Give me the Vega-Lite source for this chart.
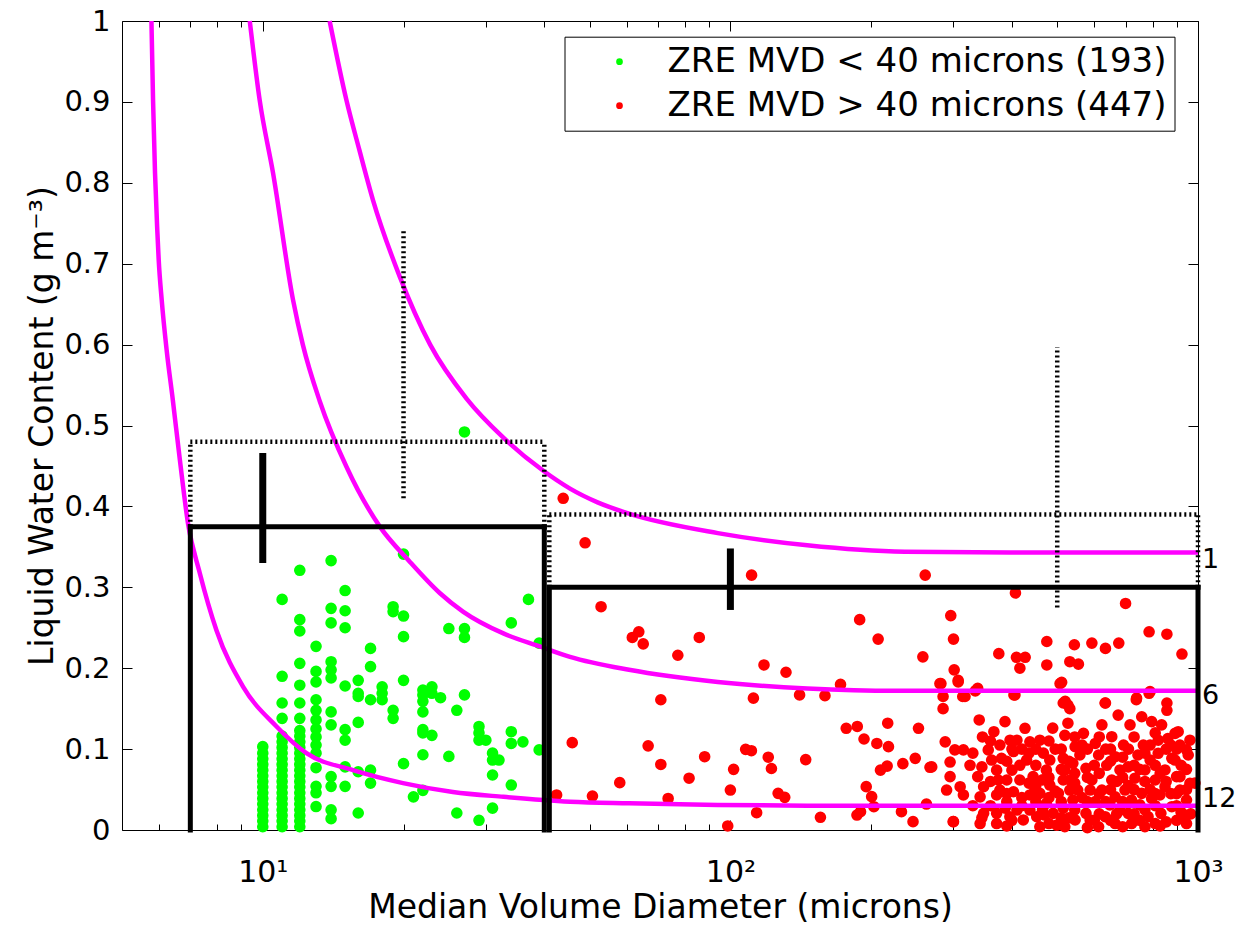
{
  "$schema": "https://vega.github.io/schema/vega-lite/v6.json",
  "width": 1076,
  "height": 809,
  "autosize": {"type": "none"},
  "padding": {"left": 122, "top": 21, "right": 40, "bottom": 104},
  "background": "white",
  "config": {
    "view": {"stroke": null},
    "axis": {"grid": false, "domainColor": "black", "domainWidth": 1, "tickColor": "black", "tickWidth": 1, "labelColor": "black", "titleColor": "black", "labelFont": "DejaVu Sans", "titleFont": "DejaVu Sans", "titleFontWeight": "normal"}
  },
  "resolve": {"axis": {"x": "independent", "y": "independent"}},
  "datasets": {
    "pts": [
      {"x":10,"y":0.004,"g":"lt"},{"x":10,"y":0.011,"g":"lt"},{"x":10,"y":0.018,"g":"lt"},{"x":10,"y":0.025,"g":"lt"},{"x":10,"y":0.032,"g":"lt"},{"x":10,"y":0.039,"g":"lt"},{"x":10,"y":0.046,"g":"lt"},{"x":10,"y":0.053,"g":"lt"},{"x":10,"y":0.06,"g":"lt"},{"x":10,"y":0.067,"g":"lt"},{"x":10,"y":0.074,"g":"lt"},{"x":10,"y":0.081,"g":"lt"},{"x":10,"y":0.088,"g":"lt"},{"x":10,"y":0.095,"g":"lt"},{"x":10,"y":0.103,"g":"lt"},
      {"x":11,"y":0.004,"g":"lt"},{"x":11,"y":0.011,"g":"lt"},{"x":11,"y":0.018,"g":"lt"},{"x":11,"y":0.025,"g":"lt"},{"x":11,"y":0.032,"g":"lt"},{"x":11,"y":0.039,"g":"lt"},{"x":11,"y":0.046,"g":"lt"},{"x":11,"y":0.053,"g":"lt"},{"x":11,"y":0.06,"g":"lt"},{"x":11,"y":0.067,"g":"lt"},{"x":11,"y":0.074,"g":"lt"},{"x":11,"y":0.081,"g":"lt"},{"x":11,"y":0.088,"g":"lt"},{"x":11,"y":0.095,"g":"lt"},{"x":11,"y":0.102,"g":"lt"},{"x":11,"y":0.109,"g":"lt"},{"x":11,"y":0.116,"g":"lt"},{"x":11,"y":0.138,"g":"lt"},{"x":11,"y":0.157,"g":"lt"},{"x":11,"y":0.19,"g":"lt"},{"x":11,"y":0.285,"g":"lt"},
      {"x":12,"y":0.004,"g":"lt"},{"x":12,"y":0.011,"g":"lt"},{"x":12,"y":0.018,"g":"lt"},{"x":12,"y":0.025,"g":"lt"},{"x":12,"y":0.032,"g":"lt"},{"x":12,"y":0.039,"g":"lt"},{"x":12,"y":0.046,"g":"lt"},{"x":12,"y":0.053,"g":"lt"},{"x":12,"y":0.06,"g":"lt"},{"x":12,"y":0.067,"g":"lt"},{"x":12,"y":0.074,"g":"lt"},{"x":12,"y":0.081,"g":"lt"},{"x":12,"y":0.088,"g":"lt"},{"x":12,"y":0.095,"g":"lt"},{"x":12,"y":0.102,"g":"lt"},{"x":12,"y":0.109,"g":"lt"},{"x":12,"y":0.116,"g":"lt"},{"x":12,"y":0.123,"g":"lt"},{"x":12,"y":0.138,"g":"lt"},{"x":12,"y":0.157,"g":"lt"},{"x":12,"y":0.179,"g":"lt"},{"x":12,"y":0.206,"g":"lt"},{"x":12,"y":0.246,"g":"lt"},{"x":12,"y":0.26,"g":"lt"},{"x":12,"y":0.321,"g":"lt"},
      {"x":13,"y":0.029,"g":"lt"},{"x":13,"y":0.046,"g":"lt"},{"x":13,"y":0.054,"g":"lt"},{"x":13,"y":0.077,"g":"lt"},{"x":13,"y":0.095,"g":"lt"},{"x":13,"y":0.105,"g":"lt"},{"x":13,"y":0.115,"g":"lt"},{"x":13,"y":0.125,"g":"lt"},{"x":13,"y":0.136,"g":"lt"},{"x":13,"y":0.148,"g":"lt"},{"x":13,"y":0.161,"g":"lt"},{"x":13,"y":0.183,"g":"lt"},{"x":13,"y":0.196,"g":"lt"},{"x":13,"y":0.227,"g":"lt"},
      {"x":14,"y":0.014,"g":"lt"},{"x":14,"y":0.025,"g":"lt"},{"x":14,"y":0.054,"g":"lt"},{"x":14,"y":0.066,"g":"lt"},{"x":14,"y":0.13,"g":"lt"},{"x":14,"y":0.146,"g":"lt"},{"x":14,"y":0.188,"g":"lt"},{"x":14,"y":0.198,"g":"lt"},{"x":14,"y":0.208,"g":"lt"},{"x":14,"y":0.256,"g":"lt"},{"x":14,"y":0.274,"g":"lt"},{"x":14,"y":0.333,"g":"lt"},
      {"x":15,"y":0.054,"g":"lt"},{"x":15,"y":0.078,"g":"lt"},{"x":15,"y":0.111,"g":"lt"},{"x":15,"y":0.124,"g":"lt"},{"x":15,"y":0.178,"g":"lt"},{"x":15,"y":0.25,"g":"lt"},{"x":15,"y":0.271,"g":"lt"},{"x":15,"y":0.296,"g":"lt"},
      {"x":16,"y":0.021,"g":"lt"},{"x":16,"y":0.072,"g":"lt"},{"x":16,"y":0.133,"g":"lt"},{"x":16,"y":0.165,"g":"lt"},{"x":16,"y":0.169,"g":"lt"},{"x":16,"y":0.185,"g":"lt"},
      {"x":17,"y":0.058,"g":"lt"},{"x":17,"y":0.074,"g":"lt"},{"x":17,"y":0.161,"g":"lt"},{"x":17,"y":0.202,"g":"lt"},{"x":17,"y":0.2245,"g":"lt"},
      {"x":18,"y":0.161,"g":"lt"},{"x":18,"y":0.169,"g":"lt"},{"x":18,"y":0.177,"g":"lt"},
      {"x":19,"y":0.138,"g":"lt"},{"x":19,"y":0.148,"g":"lt"},{"x":19,"y":0.27,"g":"lt"},{"x":19,"y":0.276,"g":"lt"},
      {"x":20,"y":0.082,"g":"lt"},{"x":20,"y":0.185,"g":"lt"},{"x":20,"y":0.239,"g":"lt"},{"x":20,"y":0.2645,"g":"lt"},{"x":20,"y":0.341,"g":"lt"},
      {"x":21,"y":0.041,"g":"lt"},
      {"x":22,"y":0.049,"g":"lt"},{"x":22,"y":0.093,"g":"lt"},{"x":22,"y":0.12,"g":"lt"},{"x":22,"y":0.124,"g":"lt"},{"x":22,"y":0.146,"g":"lt"},{"x":22,"y":0.159,"g":"lt"},{"x":22,"y":0.167,"g":"lt"},{"x":22,"y":0.173,"g":"lt"},
      {"x":23,"y":0.117,"g":"lt"},{"x":23,"y":0.169,"g":"lt"},{"x":23,"y":0.177,"g":"lt"},
      {"x":24,"y":0.1635,"g":"lt"},
      {"x":25,"y":0.091,"g":"lt"},{"x":25,"y":0.249,"g":"lt"},
      {"x":26,"y":0.021,"g":"lt"},{"x":26,"y":0.148,"g":"lt"},
      {"x":27,"y":0.167,"g":"lt"},{"x":27,"y":0.238,"g":"lt"},{"x":27,"y":0.249,"g":"lt"},{"x":27,"y":0.492,"g":"lt"},
      {"x":29,"y":0.012,"g":"lt"},{"x":29,"y":0.111,"g":"lt"},{"x":29,"y":0.12,"g":"lt"},{"x":29,"y":0.128,"g":"lt"},
      {"x":30,"y":0.111,"g":"lt"},
      {"x":31,"y":0.027,"g":"lt"},{"x":31,"y":0.068,"g":"lt"},{"x":31,"y":0.0865,"g":"lt"},{"x":31,"y":0.095,"g":"lt"},
      {"x":32,"y":0.0865,"g":"lt"},
      {"x":34,"y":0.0556,"g":"lt"},{"x":34,"y":0.107,"g":"lt"},{"x":34,"y":0.1215,"g":"lt"},{"x":34,"y":0.256,"g":"lt"},
      {"x":36,"y":0.109,"g":"lt"},{"x":37,"y":0.285,"g":"lt"},{"x":39,"y":0.099,"g":"lt"},{"x":39,"y":0.231,"g":"lt"},

      {"x":43.9,"y":0.41,"g":"gt"},{"x":48.9,"y":0.355,"g":"gt"},{"x":52.9,"y":0.276,"g":"gt"},{"x":111,"y":0.315,"g":"gt"},{"x":261,"y":0.315,"g":"gt"},{"x":407,"y":0.293,"g":"gt"},{"x":700,"y":0.28,"g":"gt"},{"x":189,"y":0.26,"g":"gt"},{"x":296,"y":0.265,"g":"gt"},{"x":300,"y":0.236,"g":"gt"},{"x":207,"y":0.236,"g":"gt"},{"x":61.7,"y":0.238,"g":"gt"},{"x":63.7,"y":0.245,"g":"gt"},{"x":65.1,"y":0.23,"g":"gt"},{"x":85.8,"y":0.238,"g":"gt"},{"x":77.2,"y":0.216,"g":"gt"},{"x":118,"y":0.204,"g":"gt"},{"x":131.5,"y":0.195,"g":"gt"},{"x":112,"y":0.163,"g":"gt"},{"x":140.6,"y":0.167,"g":"gt"},{"x":159.3,"y":0.166,"g":"gt"},{"x":172,"y":0.18,"g":"gt"},{"x":71,"y":0.161,"g":"gt"},{"x":258,"y":0.214,"g":"gt"},{"x":375,"y":0.218,"g":"gt"},{"x":409,"y":0.2135,"g":"gt"},{"x":427,"y":0.2135,"g":"gt"},{"x":416,"y":0.2,"g":"gt"},{"x":475,"y":0.233,"g":"gt"},{"x":475,"y":0.204,"g":"gt"},{"x":544,"y":0.229,"g":"gt"},{"x":593,"y":0.231,"g":"gt"},{"x":634,"y":0.2245,"g":"gt"},{"x":677,"y":0.231,"g":"gt"},{"x":532,"y":0.208,"g":"gt"},{"x":555,"y":0.205,"g":"gt"},{"x":786,"y":0.245,"g":"gt"},{"x":858,"y":0.242,"g":"gt"},{"x":924,"y":0.2175,"g":"gt"},{"x":511,"y":0.1826,"g":"gt"},{"x":282,"y":0.181,"g":"gt"},{"x":301,"y":0.198,"g":"gt"},{"x":307,"y":0.185,"g":"gt"},{"x":314,"y":0.165,"g":"gt"},{"x":285,"y":0.15,"g":"gt"},{"x":334,"y":0.172,"g":"gt"},{"x":404,"y":0.167,"g":"gt"},{"x":520,"y":0.159,"g":"gt"},{"x":532,"y":0.15,"g":"gt"},{"x":634,"y":0.157,"g":"gt"},{"x":739,"y":0.163,"g":"gt"},{"x":786,"y":0.169,"g":"gt"},{"x":858,"y":0.157,"g":"gt"},{"x":858,"y":0.148,"g":"gt"},
      {"x":45.9,"y":0.108,"g":"gt"},{"x":66.7,"y":0.104,"g":"gt"},{"x":71,"y":0.081,"g":"gt"},{"x":58,"y":0.0585,"g":"gt"},{"x":81.6,"y":0.064,"g":"gt"},{"x":88.1,"y":0.0906,"g":"gt"},{"x":101.6,"y":0.075,"g":"gt"},{"x":107.8,"y":0.0997,"g":"gt"},{"x":110.9,"y":0.098,"g":"gt"},{"x":120.5,"y":0.09,"g":"gt"},{"x":122.4,"y":0.076,"g":"gt"},{"x":144.9,"y":0.087,"g":"gt"},{"x":100,"y":0.0494,"g":"gt"},{"x":42.5,"y":0.0433,"g":"gt"},{"x":50.7,"y":0.042,"g":"gt"},{"x":73.6,"y":0.039,"g":"gt"},{"x":98.7,"y":0.005,"g":"gt"},{"x":113.8,"y":0.0214,"g":"gt"},{"x":126.5,"y":0.0453,"g":"gt"},{"x":130.7,"y":0.0404,"g":"gt"},{"x":155.8,"y":0.0157,"g":"gt"},{"x":176.9,"y":0.1257,"g":"gt"},{"x":186.8,"y":0.128,"g":"gt"},{"x":193.1,"y":0.1125,"g":"gt"},{"x":205.7,"y":0.107,"g":"gt"},{"x":217.8,"y":0.103,"g":"gt"},{"x":217,"y":0.132,"g":"gt"},{"x":252.5,"y":0.1257,"g":"gt"},{"x":209.4,"y":0.074,"g":"gt"},{"x":216.4,"y":0.079,"g":"gt"},{"x":233.8,"y":0.082,"g":"gt"},{"x":248.5,"y":0.0886,"g":"gt"},{"x":267.2,"y":0.0775,"g":"gt"},{"x":195.2,"y":0.0536,"g":"gt"},{"x":200.5,"y":0.0412,"g":"gt"},{"x":186.5,"y":0.0185,"g":"gt"},{"x":189.8,"y":0.0227,"g":"gt"},{"x":232.2,"y":0.0227,"g":"gt"},{"x":245.8,"y":0.0103,"g":"gt"},{"x":262.6,"y":0.0321,"g":"gt"},{"x":299.5,"y":0.0103,"g":"gt"},{"x":202.7,"y":0.0288,"g":"gt"},
      {"x":280.6,"y":0.181,"g":"gt"},{"x":307,"y":0.183,"g":"gt"},{"x":338,"y":0.175,"g":"gt"},{"x":507,"y":0.181,"g":"gt"},{"x":285,"y":0.165,"g":"gt"},{"x":317.5,"y":0.165,"g":"gt"},{"x":406,"y":0.167,"g":"gt"},{"x":515,"y":0.157,"g":"gt"},{"x":340.5,"y":0.136,"g":"gt"},{"x":386.6,"y":0.134,"g":"gt"},{"x":426.6,"y":0.1257,"g":"gt"},{"x":346,"y":0.115,"g":"gt"},{"x":366,"y":0.1215,"g":"gt"},{"x":288,"y":0.109,"g":"gt"},{"x":396.3,"y":0.111,"g":"gt"},{"x":410,"y":0.111,"g":"gt"},{"x":437,"y":0.109,"g":"gt"},{"x":489,"y":0.126,"g":"gt"},{"x":519,"y":0.117,"g":"gt"},{"x":302,"y":0.099,"g":"gt"},{"x":315,"y":0.099,"g":"gt"},{"x":269.5,"y":0.078,"g":"gt"},{"x":295,"y":0.084,"g":"gt"},{"x":325.4,"y":0.08,"g":"gt"},{"x":356,"y":0.099,"g":"gt"},{"x":362,"y":0.0865,"g":"gt"},{"x":380,"y":0.0886,"g":"gt"},{"x":403,"y":0.097,"g":"gt"},{"x":400,"y":0.074,"g":"gt"},{"x":430,"y":0.0865,"g":"gt"},{"x":467,"y":0.095,"g":"gt"},{"x":515,"y":0.0886,"g":"gt"},{"x":295,"y":0.066,"g":"gt"},{"x":290,"y":0.0494,"g":"gt"},{"x":310,"y":0.0535,"g":"gt"},{"x":338,"y":0.066,"g":"gt"},{"x":371,"y":0.074,"g":"gt"},{"x":374,"y":0.0618,"g":"gt"},{"x":348,"y":0.0535,"g":"gt"},{"x":390,"y":0.0618,"g":"gt"},{"x":416,"y":0.0618,"g":"gt"},{"x":444,"y":0.066,"g":"gt"},{"x":474,"y":0.074,"g":"gt"},{"x":515,"y":0.0618,"g":"gt"},{"x":315,"y":0.0433,"g":"gt"},{"x":342,"y":0.041,"g":"gt"},{"x":403,"y":0.0473,"g":"gt"},{"x":371,"y":0.0433,"g":"gt"},{"x":459,"y":0.0453,"g":"gt"},{"x":503,"y":0.0453,"g":"gt"},{"x":300,"y":0.0103,"g":"gt"},{"x":348,"y":0.0206,"g":"gt"},{"x":342,"y":0.008,"g":"gt"},{"x":371,"y":0.0206,"g":"gt"},{"x":371,"y":0.008,"g":"gt"},{"x":396,"y":0.0164,"g":"gt"},{"x":423,"y":0.0124,"g":"gt"},{"x":452,"y":0.0164,"g":"gt"},{"x":459,"y":0.004,"g":"gt"},{"x":490,"y":0.0206,"g":"gt"},{"x":499,"y":0.006,"g":"gt"},{"x":410,"y":0.0247,"g":"gt"},{"x":437,"y":0.0247,"g":"gt"},{"x":474,"y":0.033,"g":"gt"},{"x":390,"y":0.035,"g":"gt"},{"x":377,"y":0.105,"g":"gt"},{"x":416,"y":0.08,"g":"gt"},{"x":459,"y":0.111,"g":"gt"},{"x":482,"y":0.0865,"g":"gt"},{"x":448,"y":0.0494,"g":"gt"},{"x":482,"y":0.0556,"g":"gt"},{"x":519,"y":0.074,"g":"gt"},{"x":532,"y":0.0494,"g":"gt"},{"x":377,"y":0.0494,"g":"gt"},{"x":437,"y":0.0433,"g":"gt"},{"x":387,"y":0.027,"g":"gt"},{"x":470,"y":0.0185,"g":"gt"},{"x":515,"y":0.027,"g":"gt"},
      {"x":789.6,"y":0.171,"g":"gt"},{"x":633,"y":0.157,"g":"gt"},{"x":738,"y":0.161,"g":"gt"},{"x":527,"y":0.1545,"g":"gt"},{"x":675,"y":0.142,"g":"gt"},{"x":758,"y":0.14,"g":"gt"},{"x":796,"y":0.134,"g":"gt"},{"x":715.5,"y":0.13,"g":"gt"},{"x":836,"y":0.13,"g":"gt"},{"x":907,"y":0.1215,"g":"gt"},{"x":623,"y":0.13,"g":"gt"},{"x":527,"y":0.132,"g":"gt"},{"x":569,"y":0.1195,"g":"gt"},{"x":654,"y":0.1153,"g":"gt"},{"x":862,"y":0.113,"g":"gt"},{"x":693,"y":0.105,"g":"gt"},{"x":764,"y":0.105,"g":"gt"},{"x":603,"y":0.107,"g":"gt"},{"x":546,"y":0.103,"g":"gt"},{"x":953,"y":0.0927,"g":"gt"},{"x":879,"y":0.0886,"g":"gt"},{"x":822,"y":0.0948,"g":"gt"},{"x":744,"y":0.0927,"g":"gt"},{"x":665,"y":0.0906,"g":"gt"},{"x":613,"y":0.0927,"g":"gt"},{"x":540,"y":0.0824,"g":"gt"},{"x":576,"y":0.0763,"g":"gt"},{"x":638,"y":0.08,"g":"gt"},{"x":709,"y":0.078,"g":"gt"},{"x":770,"y":0.0742,"g":"gt"},{"x":850,"y":0.0742,"g":"gt"},{"x":900,"y":0.066,"g":"gt"},{"x":961,"y":0.0577,"g":"gt"},{"x":532,"y":0.0618,"g":"gt"},{"x":593,"y":0.0618,"g":"gt"},{"x":654,"y":0.0618,"g":"gt"},{"x":733,"y":0.064,"g":"gt"},{"x":810,"y":0.0618,"g":"gt"},{"x":850,"y":0.0535,"g":"gt"},{"x":553,"y":0.0494,"g":"gt"},{"x":623,"y":0.0494,"g":"gt"},{"x":698,"y":0.0494,"g":"gt"},{"x":758,"y":0.0453,"g":"gt"},{"x":945,"y":0.0371,"g":"gt"},{"x":540,"y":0.0371,"g":"gt"},{"x":603,"y":0.035,"g":"gt"},{"x":665,"y":0.041,"g":"gt"},{"x":721,"y":0.0371,"g":"gt"},{"x":796,"y":0.039,"g":"gt"},{"x":879,"y":0.0288,"g":"gt"},{"x":546,"y":0.0124,"g":"gt"},{"x":576,"y":0.0206,"g":"gt"},{"x":633,"y":0.0164,"g":"gt"},{"x":665,"y":0.008,"g":"gt"},{"x":709,"y":0.0206,"g":"gt"},{"x":721,"y":0.008,"g":"gt"},{"x":782,"y":0.0164,"g":"gt"},{"x":833,"y":0.0206,"g":"gt"},{"x":810,"y":0.008,"g":"gt"},{"x":613,"y":0.004,"g":"gt"},{"x":519,"y":0.004,"g":"gt"},{"x":559,"y":0.0927,"g":"gt"},{"x":588,"y":0.0494,"g":"gt"},{"x":681,"y":0.0742,"g":"gt"},{"x":790,"y":0.0865,"g":"gt"},{"x":829,"y":0.0433,"g":"gt"},{"x":648,"y":0.031,"g":"gt"},{"x":751,"y":0.031,"g":"gt"},{"x":915,"y":0.0494,"g":"gt"},{"x":938,"y":0.0185,"g":"gt"},{"x":681,"y":0.0247,"g":"gt"},{"x":588,"y":0.0124,"g":"gt"},{"x":893,"y":0.0865,"g":"gt"},{"x":915,"y":0.105,"g":"gt"},{"x":822,"y":0.111,"g":"gt"},{"x":945,"y":0.099,"g":"gt"},{"x":985,"y":0.058,"g":"gt"},{"x":915,"y":0.066,"g":"gt"},{"x":961,"y":0.111,"g":"gt"},{"x":893,"y":0.1195,"g":"gt"},{"x":965,"y":0.02,"g":"gt"},{"x":900,"y":0.012,"g":"gt"},
      {"x":330,"y":0.03,"g":"gt"},{"x":330,"y":0.095,"g":"gt"},{"x":360,"y":0.06,"g":"gt"},{"x":360,"y":0.11,"g":"gt"},{"x":360,"y":0.03,"g":"gt"},{"x":390,"y":0.085,"g":"gt"},{"x":390,"y":0.045,"g":"gt"},{"x":390,"y":0.005,"g":"gt"},{"x":420,"y":0.1,"g":"gt"},{"x":420,"y":0.04,"g":"gt"},{"x":420,"y":0.03,"g":"gt"},{"x":450,"y":0.08,"g":"gt"},{"x":450,"y":0.1,"g":"gt"},{"x":450,"y":0.035,"g":"gt"},{"x":450,"y":0.055,"g":"gt"},{"x":480,"y":0.11,"g":"gt"},{"x":480,"y":0.065,"g":"gt"},{"x":480,"y":0.04,"g":"gt"},{"x":480,"y":0.008,"g":"gt"},{"x":510,"y":0.1,"g":"gt"},{"x":510,"y":0.075,"g":"gt"},{"x":510,"y":0.035,"g":"gt"},{"x":510,"y":0.015,"g":"gt"},{"x":545,"y":0.115,"g":"gt"},{"x":545,"y":0.07,"g":"gt"},{"x":545,"y":0.025,"g":"gt"},{"x":545,"y":0.058,"g":"gt"},{"x":580,"y":0.1,"g":"gt"},{"x":580,"y":0.065,"g":"gt"},{"x":580,"y":0.035,"g":"gt"},{"x":580,"y":0.003,"g":"gt"},{"x":615,"y":0.115,"g":"gt"},{"x":615,"y":0.07,"g":"gt"},{"x":615,"y":0.045,"g":"gt"},{"x":615,"y":0.02,"g":"gt"},{"x":650,"y":0.1,"g":"gt"},{"x":650,"y":0.05,"g":"gt"},{"x":650,"y":0.012,"g":"gt"},{"x":650,"y":0.085,"g":"gt"},{"x":690,"y":0.09,"g":"gt"},{"x":690,"y":0.065,"g":"gt"},{"x":690,"y":0.035,"g":"gt"},{"x":690,"y":0.004,"g":"gt"},{"x":730,"y":0.115,"g":"gt"},{"x":730,"y":0.08,"g":"gt"},{"x":730,"y":0.05,"g":"gt"},{"x":730,"y":0.02,"g":"gt"},{"x":770,"y":0.095,"g":"gt"},{"x":770,"y":0.06,"g":"gt"},{"x":770,"y":0.025,"g":"gt"},{"x":770,"y":0.004,"g":"gt"},{"x":810,"y":0.12,"g":"gt"},{"x":810,"y":0.08,"g":"gt"},{"x":810,"y":0.045,"g":"gt"},{"x":810,"y":0.03,"g":"gt"},{"x":855,"y":0.1,"g":"gt"},{"x":855,"y":0.06,"g":"gt"},{"x":855,"y":0.01,"g":"gt"},{"x":900,"y":0.1,"g":"gt"},{"x":900,"y":0.045,"g":"gt"},{"x":900,"y":0.03,"g":"gt"},{"x":945,"y":0.075,"g":"gt"},{"x":945,"y":0.05,"g":"gt"},{"x":945,"y":0.008,"g":"gt"},
      {"x":345,"y":0.015,"g":"gt"},{"x":345,"y":0.078,"g":"gt"},{"x":400,"y":0.012,"g":"gt"},{"x":400,"y":0.1,"g":"gt"},{"x":435,"y":0.058,"g":"gt"},{"x":435,"y":0.095,"g":"gt"},{"x":465,"y":0.025,"g":"gt"},{"x":465,"y":0.062,"g":"gt"},{"x":495,"y":0.048,"g":"gt"},{"x":495,"y":0.1,"g":"gt"},{"x":530,"y":0.015,"g":"gt"},{"x":530,"y":0.085,"g":"gt"},{"x":565,"y":0.04,"g":"gt"},{"x":565,"y":0.105,"g":"gt"},{"x":600,"y":0.012,"g":"gt"},{"x":600,"y":0.08,"g":"gt"},{"x":635,"y":0.035,"g":"gt"},{"x":635,"y":0.1,"g":"gt"},{"x":670,"y":0.06,"g":"gt"},{"x":670,"y":0.02,"g":"gt"},{"x":710,"y":0.1,"g":"gt"},{"x":710,"y":0.055,"g":"gt"},{"x":750,"y":0.075,"g":"gt"},{"x":750,"y":0.012,"g":"gt"},{"x":790,"y":0.05,"g":"gt"},{"x":790,"y":0.105,"g":"gt"},{"x":830,"y":0.07,"g":"gt"},{"x":830,"y":0.005,"g":"gt"},{"x":875,"y":0.045,"g":"gt"},{"x":875,"y":0.105,"g":"gt"},{"x":920,"y":0.08,"g":"gt"},{"x":920,"y":0.022,"g":"gt"}
    ],
    "curves": [
      {"c":"a","x":13.9,"y":1.0},{"c":"a","x":15.1,"y":0.902},{"c":"a","x":16.1,"y":0.84},{"c":"a","x":17.2,"y":0.779},{"c":"a","x":19.6,"y":0.685},{"c":"a","x":22.8,"y":0.6},{"c":"a","x":27.3,"y":0.533},{"c":"a","x":32.7,"y":0.485},{"c":"a","x":39.8,"y":0.444},{"c":"a","x":45.4,"y":0.422},{"c":"a","x":52,"y":0.405},{"c":"a","x":60.7,"y":0.391},{"c":"a","x":94,"y":0.367},{"c":"a","x":146,"y":0.352},{"c":"a","x":236,"y":0.344},{"c":"a","x":400,"y":0.343},{"c":"a","x":1000,"y":0.343},
      {"c":"b","x":9.38,"y":1.0},{"c":"b","x":9.85,"y":0.902},{"c":"b","x":10.52,"y":0.812},{"c":"b","x":11.61,"y":0.655},{"c":"b","x":12.18,"y":0.6},{"c":"b","x":13.24,"y":0.53},{"c":"b","x":15.1,"y":0.449},{"c":"b","x":17.8,"y":0.375},{"c":"b","x":20.6,"y":0.332},{"c":"b","x":23.9,"y":0.293},{"c":"b","x":26.8,"y":0.27},{"c":"b","x":32.7,"y":0.243},{"c":"b","x":39.1,"y":0.227},{"c":"b","x":45.4,"y":0.214},{"c":"b","x":60.7,"y":0.198},{"c":"b","x":94,"y":0.183},{"c":"b","x":146,"y":0.175},{"c":"b","x":226,"y":0.172},{"c":"b","x":1000,"y":0.172},
      {"c":"c","x":5.78,"y":1.0},{"c":"c","x":5.826,"y":0.902},{"c":"c","x":5.883,"y":0.812},{"c":"c","x":5.948,"y":0.742},{"c":"c","x":5.99,"y":0.705},{"c":"c","x":6.08,"y":0.655},{"c":"c","x":6.23,"y":0.593},{"c":"c","x":6.42,"y":0.532},{"c":"c","x":6.65,"y":0.457},{"c":"c","x":6.92,"y":0.379},{"c":"c","x":7.33,"y":0.318},{"c":"c","x":7.96,"y":0.247},{"c":"c","x":9.08,"y":0.177},{"c":"c","x":10.7,"y":0.128},{"c":"c","x":12.4,"y":0.095},{"c":"c","x":15.6,"y":0.074},{"c":"c","x":19.95,"y":0.058},{"c":"c","x":25.5,"y":0.047},{"c":"c","x":32.7,"y":0.041},{"c":"c","x":45.4,"y":0.035},{"c":"c","x":60.7,"y":0.033},{"c":"c","x":94,"y":0.031},{"c":"c","x":146,"y":0.03},{"c":"c","x":1000,"y":0.03}
    ],
    "segs": [
      {"k":"s","x":7,"x2":7,"y":0,"y2":0.375},{"k":"s","x":7,"x2":40,"y":0.375,"y2":0.375},{"k":"s","x":40,"x2":40,"y":0,"y2":0.375},
      {"k":"s","x":41,"x2":41,"y":0,"y2":0.3},{"k":"s","x":41,"x2":1000,"y":0.3,"y2":0.3},{"k":"s","x":1000,"x2":1000,"y":0,"y2":0.3},
      {"k":"e","x":10,"x2":10,"y":0.33,"y2":0.466},{"k":"e","x":100,"x2":100,"y":0.272,"y2":0.348},
      {"k":"d","x":7,"x2":7,"y":0.375,"y2":0.48},{"k":"d","x":7,"x2":40,"y":0.48,"y2":0.48},{"k":"d","x":40,"x2":40,"y":0.375,"y2":0.48},
      {"k":"d","x":20,"x2":20,"y":0.41,"y2":0.74},
      {"k":"d","x":41,"x2":41,"y":0.3,"y2":0.39},{"k":"d","x":41,"x2":1000,"y":0.39,"y2":0.39},{"k":"d","x":1000,"x2":1000,"y":0.3,"y2":0.39},
      {"k":"d","x":500,"x2":500,"y":0.275,"y2":0.597}
    ],
    "labs": [
      {"x":1000,"y":0.334,"t":"1"},{"x":1000,"y":0.166,"t":"6"},{"x":1000,"y":0.038,"t":"12"}
    ]
  },
  "layer": [
    {
      "data": {"name": "pts"},
      "mark": {"type": "point", "filled": true, "shape": "circle", "size": 135, "opacity": 1, "strokeWidth": 0},
      "encoding": {
        "x": {"field": "x", "type": "quantitative",
          "scale": {"type": "log", "domain": [5, 1000], "nice": false},
          "axis": {"orient": "bottom", "values": [10, 100, 1000], "ticks": false, "domain": true,
            "labelExpr": "datum.value == 10 ? '10¹' : datum.value == 100 ? '10²' : '10³'",
            "labelFontSize": 30, "labelPadding": 27, "labelBaseline": "top", "labelAlign": "center", "labelFlush": false, "labelOverlap": false,
            "title": "Median Volume Diameter (microns)", "titleFontSize": 33, "titleX": 538, "titleY": 87, "titleBaseline": "alphabetic", "titleAlign": "center", "titleAnchor": null}},
        "y": {"field": "y", "type": "quantitative",
          "scale": {"domain": [0, 1], "nice": false},
          "axis": {"orient": "left", "values": [0, 0.1, 0.2, 0.3, 0.4, 0.5, 0.6, 0.7, 0.8, 0.9, 1], "ticks": false, "domain": true,
            "format": ".1~f", "labelFontSize": 29, "labelPadding": 12, "labelOverlap": false, "labelFlush": false,
            "title": "Liquid Water Content (g m⁻³)", "titleFontSize": 33, "titleAngle": 270, "titleX": -70, "titleY": 404.5, "titleBaseline": "alphabetic", "titleAlign": "center"}},
        "color": {"field": "g", "type": "nominal",
          "scale": {"domain": ["lt", "gt"], "range": ["#00ff00", "#ff0000"]},
          "legend": {"orient": "none", "legendX": 442.5, "legendY": 15.7, "title": null, "direction": "vertical",
            "strokeColor": "black", "fillColor": "white", "padding": 8, "cornerRadius": 0,
            "symbolType": "circle", "symbolSize": 45, "symbolStrokeWidth": 0, "symbolOffset": 30, "labelOffset": 31,
            "labelFont": "DejaVu Sans", "labelFontSize": 34, "labelColor": "black", "rowPadding": 10, "labelLimit": 800,
            "labelExpr": "datum.label == 'lt' ? 'ZRE MVD < 40 microns (193)' : 'ZRE MVD > 40 microns (447)'"}}
      }
    },
    {
      "data": {"name": "curves"},
      "mark": {"type": "line", "color": "#ff00ff", "strokeWidth": 4.5, "interpolate": "monotone"},
      "encoding": {
        "x": {"field": "x", "type": "quantitative",
          "axis": {"orient": "bottom", "values": [6, 7, 8, 9, 10, 20, 30, 40, 50, 60, 70, 80, 90, 100, 200, 300, 400, 500, 600, 700, 800, 900, 1000],
            "labels": false, "domain": false, "title": null, "ticks": true,
            "tickSize": {"condition": {"test": "datum.value == 10 || datum.value == 100 || datum.value == 1000", "value": -10}, "value": -6}}},
        "y": {"field": "y", "type": "quantitative",
          "axis": {"orient": "left", "values": [0, 0.1, 0.2, 0.3, 0.4, 0.5, 0.6, 0.7, 0.8, 0.9, 1], "labels": false, "domain": false, "title": null, "ticks": true, "tickSize": -10}},
        "detail": {"field": "c", "type": "nominal"}
      }
    },
    {
      "data": {"name": "segs"},
      "transform": [{"filter": "datum.k == 'd'"}],
      "mark": {"type": "rule", "color": "black", "strokeWidth": 4.5, "strokeDash": [2, 3]},
      "encoding": {
        "x": {"field": "x", "type": "quantitative",
          "axis": {"orient": "top", "values": [6, 7, 8, 9, 10, 20, 30, 40, 50, 60, 70, 80, 90, 100, 200, 300, 400, 500, 600, 700, 800, 900, 1000],
            "labels": false, "domain": true, "title": null, "ticks": true,
            "tickSize": {"condition": {"test": "datum.value == 10 || datum.value == 100 || datum.value == 1000", "value": -10}, "value": -6}}},
        "x2": {"field": "x2"},
        "y": {"field": "y", "type": "quantitative",
          "axis": {"orient": "right", "values": [0, 0.1, 0.2, 0.3, 0.4, 0.5, 0.6, 0.7, 0.8, 0.9, 1], "labels": false, "domain": true, "title": null, "ticks": true, "tickSize": -10}},
        "y2": {"field": "y2"}
      }
    },
    {
      "data": {"name": "segs"},
      "transform": [{"filter": "datum.k == 's'"}],
      "mark": {"type": "rule", "color": "black", "strokeWidth": 5, "strokeCap": "square"},
      "encoding": {
        "x": {"field": "x", "type": "quantitative", "axis": null},
        "x2": {"field": "x2"},
        "y": {"field": "y", "type": "quantitative", "axis": null},
        "y2": {"field": "y2"}
      }
    },
    {
      "data": {"name": "segs"},
      "transform": [{"filter": "datum.k == 'e'"}],
      "mark": {"type": "rule", "color": "black", "strokeWidth": 7},
      "encoding": {
        "x": {"field": "x", "type": "quantitative", "axis": null},
        "x2": {"field": "x2"},
        "y": {"field": "y", "type": "quantitative", "axis": null},
        "y2": {"field": "y2"}
      }
    },
    {
      "data": {"name": "labs"},
      "mark": {"type": "text", "align": "left", "baseline": "middle", "dx": 4, "font": "DejaVu Sans", "fontSize": 27, "color": "black"},
      "encoding": {
        "x": {"field": "x", "type": "quantitative", "axis": null},
        "y": {"field": "y", "type": "quantitative", "axis": null},
        "text": {"field": "t"}
      }
    }
  ]
}
